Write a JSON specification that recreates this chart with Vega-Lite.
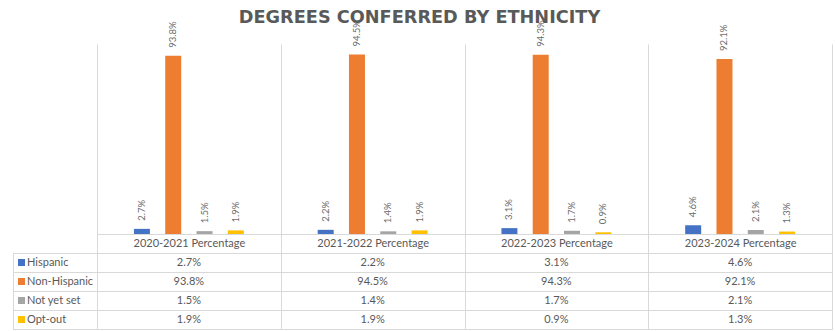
{
  "$schema": "https://vega.github.io/schema/vega-lite/v6.json",
  "padding": {"left": 12, "top": 9, "right": 2, "bottom": 0},
  "title": {"text": "DEGREES CONFERRED BY ETHNICITY", "font": "DejaVu Sans", "fontSize": 17.7, "fontWeight": "bold", "color": "#595959", "anchor": "middle", "offset": -7, "dx": -3},
  "datasets": {
    "d": [
      {"period": "2020-2021 Percentage", "eth": "Hispanic", "value": 0.027},
      {"period": "2020-2021 Percentage", "eth": "Non-Hispanic", "value": 0.938},
      {"period": "2020-2021 Percentage", "eth": "Not yet set", "value": 0.015},
      {"period": "2020-2021 Percentage", "eth": "Opt-out", "value": 0.019},
      {"period": "2021-2022 Percentage", "eth": "Hispanic", "value": 0.022},
      {"period": "2021-2022 Percentage", "eth": "Non-Hispanic", "value": 0.945},
      {"period": "2021-2022 Percentage", "eth": "Not yet set", "value": 0.014},
      {"period": "2021-2022 Percentage", "eth": "Opt-out", "value": 0.019},
      {"period": "2022-2023 Percentage", "eth": "Hispanic", "value": 0.031},
      {"period": "2022-2023 Percentage", "eth": "Non-Hispanic", "value": 0.943},
      {"period": "2022-2023 Percentage", "eth": "Not yet set", "value": 0.017},
      {"period": "2022-2023 Percentage", "eth": "Opt-out", "value": 0.009},
      {"period": "2023-2024 Percentage", "eth": "Hispanic", "value": 0.046},
      {"period": "2023-2024 Percentage", "eth": "Non-Hispanic", "value": 0.921},
      {"period": "2023-2024 Percentage", "eth": "Not yet set", "value": 0.021},
      {"period": "2023-2024 Percentage", "eth": "Opt-out", "value": 0.013}
    ]
  },
  "columns": 2,
  "align": "each",
  "bounds": "flush",
  "spacing": {"row": 19, "column": 0},
  "concat": [
    {
      "width": 84, "height": 190,
      "data": {"values": [{}]},
      "mark": {"type": "text", "text": ""},
      "encoding": {}
    },
    {
      "width": 735, "height": 190,
      "data": {"name": "d"},
      "encoding": {
        "x": {"field": "period", "type": "nominal", "sort": null, "title": null,
          "scale": {"paddingInner": 0, "paddingOuter": 0},
          "axis": {"orient": "bottom", "tickBand": "extent", "grid": true, "gridColor": "#D9D9D9", "ticks": true, "tickColor": "#D9D9D9", "tickSize": 19, "domain": true, "domainColor": "#D9D9D9", "labelFont": "Lato", "labelFontSize": 11, "labelColor": "#595959", "labelAngle": 0, "labelBaseline": "middle", "labelPadding": -9.5}},
        "xOffset": {"field": "eth", "type": "nominal", "sort": null,
          "scale": {"domain": ["pad-left", "Hispanic", "Non-Hispanic", "Not yet set", "Opt-out", "pad-right"], "paddingInner": 0.489, "paddingOuter": 0.18}},
        "y": {"field": "value", "type": "quantitative", "scale": {"domain": [0, 1]}, "axis": null}
      },
      "layer": [
        {"mark": {"type": "bar"},
         "encoding": {"color": {"field": "eth", "type": "nominal", "sort": null, "legend": null,
           "scale": {"domain": ["Hispanic", "Non-Hispanic", "Not yet set", "Opt-out"], "range": ["#4472C4", "#ED7D31", "#A5A5A5", "#FFC000"]}}}},
        {"mark": {"type": "text", "angle": 270, "align": "left", "baseline": "middle", "dx": 8, "font": "Lato", "fontSize": 9.5, "color": "#6E6E6E"},
         "encoding": {"text": {"field": "value", "type": "quantitative", "format": ".1%"}}}
      ]
    },
    {
      "width": 84, "height": 76,
      "view": {"stroke": "#D9D9D9"},
      "data": {"name": "d"},
      "transform": [{"filter": "datum.period == '2020-2021 Percentage'"}],
      "encoding": {
        "y": {"field": "eth", "type": "nominal", "sort": null, "title": null,
          "scale": {"paddingInner": 0, "paddingOuter": 0},
          "axis": {"labels": false, "ticks": false, "domain": false, "grid": true, "tickBand": "extent", "gridColor": "#D9D9D9"}}
      },
      "layer": [
        {"mark": {"type": "square", "size": 49, "filled": true, "opacity": 1, "xOffset": -33.5},
         "encoding": {"color": {"field": "eth", "type": "nominal", "sort": null, "legend": null,
           "scale": {"domain": ["Hispanic", "Non-Hispanic", "Not yet set", "Opt-out"], "range": ["#4472C4", "#ED7D31", "#A5A5A5", "#FFC000"]}}}},
        {"mark": {"type": "text", "align": "left", "baseline": "middle", "dx": -28, "font": "Lato", "fontSize": 11, "color": "#595959"},
         "encoding": {"text": {"field": "eth", "type": "nominal"}}}
      ]
    },
    {
      "width": 735, "height": 76,
      "view": {"stroke": "#D9D9D9"},
      "data": {"name": "d"},
      "mark": {"type": "text", "baseline": "middle", "font": "Lato", "fontSize": 11, "color": "#595959"},
      "encoding": {
        "x": {"field": "period", "type": "nominal", "sort": null, "title": null,
          "scale": {"paddingInner": 0, "paddingOuter": 0},
          "axis": {"labels": false, "ticks": false, "domain": false, "grid": true, "tickBand": "extent", "gridColor": "#D9D9D9"}},
        "y": {"field": "eth", "type": "nominal", "sort": null, "title": null,
          "scale": {"paddingInner": 0, "paddingOuter": 0},
          "axis": {"labels": false, "ticks": false, "domain": false, "grid": true, "tickBand": "extent", "gridColor": "#D9D9D9"}},
        "text": {"field": "value", "type": "quantitative", "format": ".1%"}
      }
    }
  ],
  "resolve": {"scale": {"color": "shared"}},
  "config": {"view": {"stroke": null}}
}
